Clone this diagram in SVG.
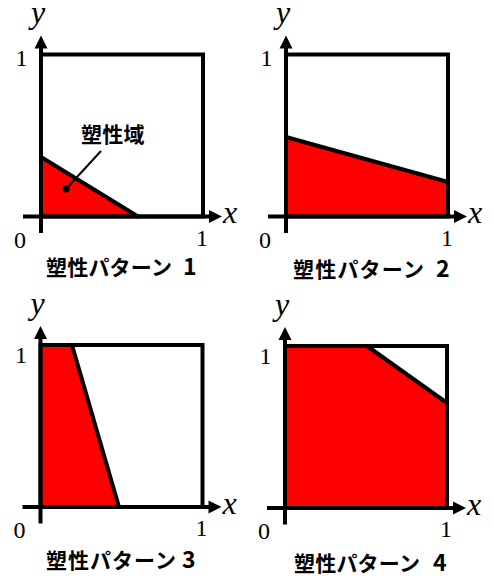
<svg xmlns="http://www.w3.org/2000/svg" width="494" height="578" viewBox="0 0 494 578">
<style>
.bg{fill:#ffffff}
.red{fill:#ff0000;stroke:none}
.box{fill:none;stroke:#000;stroke-width:4;stroke-linejoin:miter}
.ax{stroke:#000;stroke-width:4;fill:none}
.edge{stroke:#000;stroke-width:4;fill:none;stroke-linecap:round}
.cap{font-family:'Noto Sans CJK JP','Noto Sans',sans-serif;font-weight:bold;font-size:21px;fill:#000}
.dig{font-size:23px;letter-spacing:0}
.var{font-family:'Liberation Serif','Times New Roman',Tinos,'Noto Serif','DejaVu Serif','Noto Serif CJK JP',serif;font-style:italic;font-size:32px;fill:#000}
.num{font-family:'Liberation Serif','Times New Roman',Tinos,'Noto Serif','DejaVu Serif','Noto Serif CJK JP',serif;font-size:24px;fill:#000;text-anchor:middle}
.lead{stroke:#000;stroke-width:2;fill:none}
</style>
<defs>
<path id="ahx" d="M0,0 L-13,-6.5 L-13,6.5 Z" fill="#000"/>
<path id="ahy" d="M0,0 L-6.5,13 L6.5,13 Z" fill="#000"/>
</defs>
<rect class="bg" x="0" y="0" width="494" height="578"/>

<g id="panel1" transform="translate(41,216.5)">
<polygon class="red" points="0,-59.5 97,0 0,0"/>
<rect class="box" x="0" y="-162" width="162" height="162"/>
<line class="ax" x1="-18" y1="0" x2="170" y2="0"/>
<line class="ax" x1="0" y1="16.5" x2="0" y2="-170"/>
<use href="#ahx" x="181" y="0"/>
<use href="#ahy" x="0" y="-181"/>
<text class="var" x="-3" y="-193.5" text-anchor="middle">y</text>
<text class="var" x="182" y="6.5">x</text>
<text class="num" x="-21" y="31">0</text>
<text class="num" x="161" y="29">1</text>
<text class="num" x="-19.5" y="-150.5">1</text>
<line class="edge" x1="0" y1="-59.5" x2="97" y2="0"/>
</g>
<g id="label-plastic">
<text class="cap" x="81" y="142" letter-spacing="0.3">塑性域</text>
<circle cx="66" cy="189" r="3.5" fill="#000"/>
</g>
<text id="caption1" class="cap" x="46" y="275" letter-spacing="0.2">塑性パターン<tspan class="dig" x="183">1</tspan></text>

<g id="panel2" transform="translate(286,216.5)">
<polygon class="red" points="0,-79.5 162,-34.5 162,0 0,0"/>
<rect class="box" x="0" y="-162" width="162" height="162"/>
<line class="ax" x1="-18" y1="0" x2="170" y2="0"/>
<line class="ax" x1="0" y1="16.5" x2="0" y2="-170"/>
<use href="#ahx" x="181" y="0"/>
<use href="#ahy" x="0" y="-181"/>
<text class="var" x="-3" y="-193.5" text-anchor="middle">y</text>
<text class="var" x="182" y="6.5">x</text>
<text class="num" x="-21" y="31">0</text>
<text class="num" x="161" y="29">1</text>
<text class="num" x="-19.5" y="-150.5">1</text>
<line class="edge" x1="0" y1="-79.5" x2="162" y2="-34.5"/>
</g>
<text id="caption2" class="cap" x="293" y="277" letter-spacing="1.2">塑性パターン<tspan class="dig" x="436">2</tspan></text>

<g id="panel3" transform="translate(40.5,507)">
<polygon class="red" points="0,-162 31.5,-162 78.5,0 0,0"/>
<rect class="box" x="0" y="-162" width="162" height="162"/>
<line class="ax" x1="-18" y1="0" x2="170" y2="0"/>
<line class="ax" x1="0" y1="16.5" x2="0" y2="-170"/>
<use href="#ahx" x="181" y="0"/>
<use href="#ahy" x="0" y="-181"/>
<text class="var" x="-3" y="-193.5" text-anchor="middle">y</text>
<text class="var" x="182" y="6.5">x</text>
<text class="num" x="-21" y="31">0</text>
<text class="num" x="161" y="29">1</text>
<text class="num" x="-19.5" y="-144">1</text>
<line class="edge" x1="31.5" y1="-162" x2="78.5" y2="0"/>
</g>
<text id="caption3" class="cap" x="46" y="568" letter-spacing="1">塑性パターン<tspan class="dig" x="182">3</tspan></text>

<g id="panel4" transform="translate(285,508)">
<polygon class="red" points="0,-162 82,-162 162,-105 162,0 0,0"/>
<rect class="box" x="0" y="-162" width="162" height="162"/>
<line class="ax" x1="-18" y1="0" x2="170" y2="0"/>
<line class="ax" x1="0" y1="16.5" x2="0" y2="-170"/>
<use href="#ahx" x="181" y="0"/>
<use href="#ahy" x="0" y="-181"/>
<text class="var" x="-3" y="-193.5" text-anchor="middle">y</text>
<text class="var" x="182" y="6.5">x</text>
<text class="num" x="-21" y="31">0</text>
<text class="num" x="161" y="29">1</text>
<text class="num" x="-19.5" y="-144">1</text>
<line class="edge" x1="82" y1="-162" x2="162" y2="-105"/>
</g>
<text id="caption4" class="cap" x="294" y="571" letter-spacing="0.2">塑性パターン<tspan class="dig" x="433">4</tspan></text>

<g id="connectors">
<line class="lead" x1="101" y1="151" x2="66" y2="189"/>
</g>
</svg>
